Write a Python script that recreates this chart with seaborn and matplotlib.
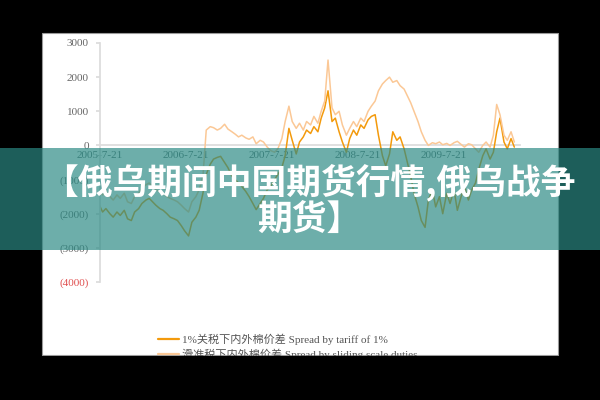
import matplotlib
matplotlib.use('Agg')
import matplotlib.pyplot as plt
import matplotlib.ticker as mticker
from matplotlib.patches import Rectangle
import pandas as pd
import seaborn as sns

# half-monthly observations, 2005-07 .. 2010-05
dates = pd.date_range('2005-07-15', '2010-05-15', freq='SMS')

spread_1pct = [
    -1700, -1950, -1850, -2000, -2100, -1950, -2050, -1900, -2150, -2200,
    -1950, -1850, -1700, -1600, -1550, -1650, -1750, -1850, -1900, -2000,
    -2100, -2150, -2200, -2350, -2500, -2650, -2250, -2100, -1900, -1400,
    -850, -550, -400, -350, -320, -500, -650, -900, -1000, -1100,
    -1200, -1350, -1500, -1700, -1880, -1700, -1550, -1300, -1200, -1000,
    -850, -650, -300, 500, 150, -250, 100, 250, 450, 350,
    550, 400, 800, 1100, 1600, 700, 800, 400, 100, -200,
    200, 450, 300, 600, 500, 750, 850, 900, 300, -300,
    -600, -250, 400, 150, 250, -100, -500, -900, -1400, -1800,
    -2200, -2400, -1600, -1300, -1800, -1500, -2000, -1400, -1700, -1300,
    -1900, -1500, -1200, -1600, -1300, -1100, -700, -300, -100, -400,
    -200, 400, 800, 100, -100, 200, -50,
]

spread_sliding = [
    -1300, -1450, -1350, -1500, -1600, -1450, -1550, -1400, -1650, -1700,
    -1500, -1400, -1250, -1150, -1100, -1200, -1300, -1350, -1400, -1500,
    -1550, -1600, -1650, -1750, -1850, -1950, -1650, -1500, -1300, -900,
    450, 550, 520, 450, 500, 620, 480, 400, 330, 250,
    300, 220, 180, 250, 50, 150, 100, -50, -150, -200,
    -100, 200, 700, 1150, 700, 500, 650, 450, 700, 600,
    850, 650, 1000, 1300, 2500, 1100, 900, 1000, 600, 300,
    500, 700, 550, 800, 700, 1000, 1150, 1300, 1600, 1800,
    1900, 2000, 1850, 1900, 1750, 1650, 1450, 1250, 1000, 700,
    400, 150, 0, 80, 50, 100, 20, 60, 0, 80,
    120, 30, -50, 50, 20, -100, -200, 0, 100, -50,
    300, 1200, 900, 300, 150, 400, 100,
]

labels = ['1%关税下内外棉价差 Spread by tariff of 1%',
          '滑准税下内外棉价差 Spread by sliding scale duties']
colors = ['#f39a0c', '#fbc896']
yticks = [3000, 2000, 1000, 0, -1000, -2000, -3000, -4000]
xticks = pd.to_datetime(['2005-07-21', '2006-07-21', '2007-07-21',
                         '2008-07-21', '2009-07-21'])
xtick_labels = ['2005-7-21', '2006-7-21', '2007-7-21', '2008-7-21', '2009-7-21']
banner = '【俄乌期间中国期货行情,俄乌战争\n期货】'

df = pd.DataFrame({'date': dates,
                   labels[0]: spread_1pct,
                   labels[1]: spread_sliding})
long_df = df.melt(id_vars='date', var_name='series', value_name='spread')

sns.set_theme(style='white')
plt.rcParams['font.family'] = ['Liberation Serif', 'Noto Sans CJK SC']

fig = plt.figure(figsize=(6, 4), dpi=100)
fig.patch.set_facecolor('black')

# white sheet behind the chart
fig.add_artist(Rectangle((42 / 600, 1 - 355 / 400), 516 / 600, 322 / 400,
                         transform=fig.transFigure, facecolor='white',
                         edgecolor='#9a9a9a', lw=0.8, zorder=-1))

ax = fig.add_axes([100 / 600, 1 - 282 / 400, 420 / 600, 239 / 400])
ax.set_facecolor('white')

sns.lineplot(data=long_df, x='date', y='spread', hue='series',
             hue_order=labels, palette=colors, linewidth=1.1, ax=ax,
             legend=False)

ax.set_ylim(-4000, 3000)
ax.set_xlim(pd.Timestamp('2005-07-21'), pd.Timestamp('2010-06-08'))
ax.set_yticks(yticks)
ax.yaxis.set_major_formatter(mticker.FuncFormatter(
    lambda v, p: f'({abs(v):.0f})' if v < 0 else f'{v:.0f}'))
ax.set_xticks(xticks)
ax.set_xticklabels(xtick_labels)
ax.set_xlabel('')
ax.set_ylabel('')

for side in ['top', 'right']:
    ax.spines[side].set_visible(False)
ax.spines['bottom'].set_position(('data', 0))
ax.spines['bottom'].set_color('#dcdcdc')
ax.spines['left'].set_color('#dcdcdc')
ax.spines['bottom'].set_zorder(0.5)

ax.tick_params(axis='y', length=3, color='#dcdcdc', pad=5,
               labelsize=8, labelcolor='#666666', left=True)
ax.tick_params(axis='x', length=0, pad=4, labelsize=8,
               labelcolor='#5a6a6a', bottom=True)
ax.get_yticklabels()[-1].set_color('#e05050')

handles = [plt.Line2D([], [], color=c, lw=1.6) for c in colors]
fig.legend(handles, labels, loc='upper left',
           bbox_to_anchor=(158 / 600, 1 - 334 / 400), frameon=False,
           fontsize=8, handlelength=1.9, handletextpad=0.25,
           labelspacing=0.3, borderaxespad=0, borderpad=0,
           labelcolor='#555555')

# black frame below the sheet cuts the legend
fig.add_artist(Rectangle((0, 0), 1, 1 - 355.5 / 400, transform=fig.transFigure,
                         facecolor='black', edgecolor='none', zorder=6))

# translucent teal banner with title
fig.add_artist(Rectangle((0, 1 - 250 / 400), 1, 102 / 400,
                         transform=fig.transFigure, facecolor='#2b8a84',
                         alpha=0.69, edgecolor='none', zorder=7))
fig.text(0.515, 1 - 200 / 400, banner, ha='center', va='center',
         color='white', fontsize=25, fontweight='bold',
         family=['Noto Sans CJK SC', 'DejaVu Sans'], linespacing=1.05,
         zorder=8)

fig.savefig('out.png', dpi=100, facecolor=fig.get_facecolor())
